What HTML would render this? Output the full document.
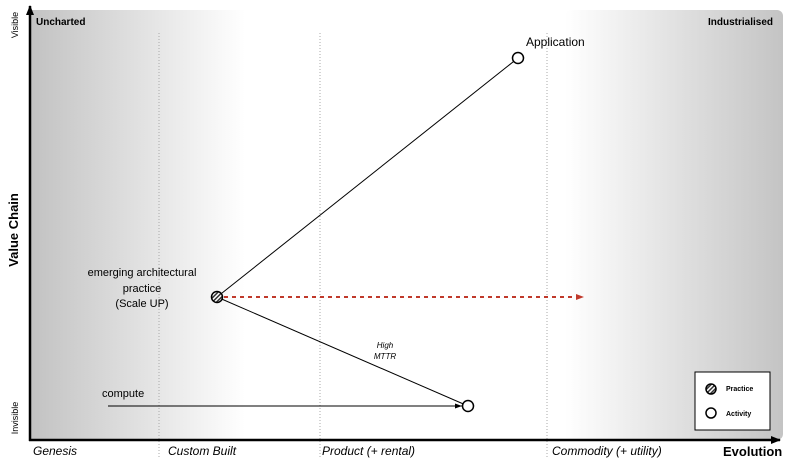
<!DOCTYPE html>
<html><head><style>body{margin:0;background:#fff}</style></head><body>
<svg width="800" height="465" xmlns="http://www.w3.org/2000/svg" font-family="'Gill Sans','Liberation Sans',sans-serif">
<defs>
<linearGradient id="gl" x1="0" x2="1"><stop offset="0" stop-color="#c2c2c2"/><stop offset="1" stop-color="#fff"/></linearGradient>
<linearGradient id="gr" x1="0" x2="1"><stop offset="0" stop-color="#fff"/><stop offset="1" stop-color="#c4c4c4"/></linearGradient>
<pattern id="hatch" width="3" height="3" patternUnits="userSpaceOnUse" patternTransform="rotate(45)"><rect width="3" height="3" fill="#fff"/><rect width="1.5" height="3" fill="#333"/></pattern>
<marker id="ar" markerUnits="userSpaceOnUse" markerWidth="10" markerHeight="10" refX="9" refY="5" orient="auto"><path d="M0,1 L10,5 L0,9z" fill="#000"/></marker>
<marker id="ars" markerUnits="userSpaceOnUse" markerWidth="7" markerHeight="7" refX="7" refY="3.5" orient="auto"><path d="M0,1 L7,3.5 L0,6z" fill="#000"/></marker>
<marker id="arr" markerUnits="userSpaceOnUse" markerWidth="8" markerHeight="8" refX="7" refY="4" orient="auto"><path d="M0,1 L8,4 L0,7z" fill="#c0392b"/></marker>
</defs>
<rect x="30" y="10" width="215" height="430" fill="url(#gl)"/>
<rect x="565" y="10" width="218" height="430" rx="6" fill="url(#gr)"/>
<g stroke="#aaa" stroke-dasharray="1,2" stroke-width="1">
<line x1="159" y1="33" x2="159" y2="458"/><line x1="320" y1="33" x2="320" y2="458"/><line x1="547" y1="33" x2="547" y2="458"/></g>
<line x1="30" y1="441" x2="30" y2="6" stroke="#000" stroke-width="2.5" marker-end="url(#ar)"/>
<line x1="29" y1="440" x2="780" y2="440" stroke="#000" stroke-width="2.5" marker-end="url(#ar)"/>
<text x="36" y="25" font-size="10" font-weight="bold">Uncharted</text>
<text x="773" y="25" font-size="10" font-weight="bold" text-anchor="end">Industrialised</text>
<text transform="translate(18,25) rotate(-90)" font-size="9" text-anchor="middle">Visible</text>
<text transform="translate(18,418) rotate(-90)" font-size="9" text-anchor="middle">Invisible</text>
<text transform="translate(18,230) rotate(-90)" font-size="13" font-weight="bold" text-anchor="middle">Value Chain</text>
<g font-size="12" font-style="italic"><text x="33" y="455">Genesis</text><text x="168" y="455">Custom Built</text><text x="322" y="455">Product (+ rental)</text><text x="552" y="455">Commodity (+ utility)</text></g>
<text x="723" y="456" font-size="13" font-weight="bold">Evolution</text>
<line x1="217" y1="297" x2="518" y2="58" stroke="#000"/>
<line x1="217" y1="297" x2="468" y2="406" stroke="#000"/>
<line x1="108" y1="406" x2="462" y2="406" stroke="#000" marker-end="url(#ars)"/>
<line x1="224" y1="297" x2="583" y2="297" stroke="#c0392b" stroke-width="2" stroke-dasharray="4,4" marker-end="url(#arr)"/>
<circle cx="518" cy="58" r="5.5" fill="#fff" stroke="#000" stroke-width="1.5"/>
<circle cx="468" cy="406" r="5.5" fill="#fff" stroke="#000" stroke-width="1.5"/>
<circle cx="217" cy="297" r="5.5" fill="url(#hatch)" stroke="#000" stroke-width="1.5"/>
<text x="526" y="46" font-size="12">Application</text>
<g font-size="11" text-anchor="middle"><text x="142" y="276">emerging architectural</text><text x="142" y="292">practice</text><text x="142" y="307">(Scale UP)</text></g>
<text x="102" y="397" font-size="11">compute</text>
<g font-size="8" font-style="italic" text-anchor="middle"><text x="385" y="348">High</text><text x="385" y="359">MTTR</text></g>
<rect x="695" y="372" width="75" height="58" fill="#fff" stroke="#000"/>
<circle cx="711" cy="389" r="5" fill="url(#hatch)" stroke="#000" stroke-width="1.5"/>
<circle cx="711" cy="413" r="5" fill="#fff" stroke="#000" stroke-width="1.5"/>
<g font-size="7" font-weight="bold"><text x="726" y="391">Practice</text><text x="726" y="416">Activity</text></g>
</svg>
</body></html>
